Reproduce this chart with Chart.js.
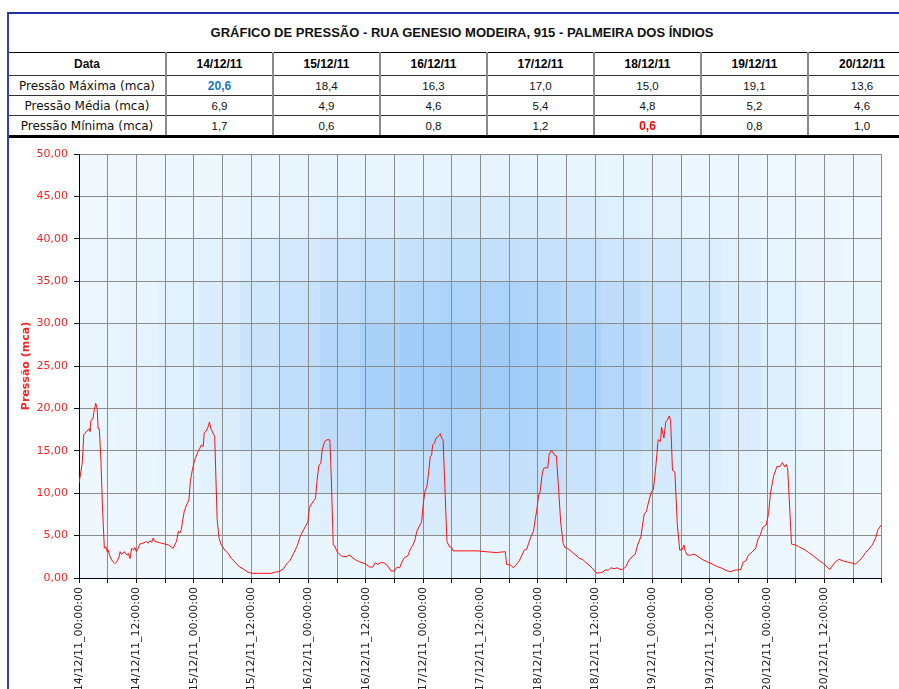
<!DOCTYPE html>
<html>
<head>
<meta charset="utf-8">
<script src="https://cdn.jsdelivr.net/npm/chart.js@4.4.1/dist/chart.umd.min.js"></script>
<style>
html,body{margin:0;padding:0;background:#fff;}
body{width:899px;height:689px;overflow:hidden;position:relative;}
#frame{position:absolute;left:7px;top:12px;width:1000px;height:700px;border-left:2px solid #2a3ed2;border-top:2px solid #1f2fa6;box-sizing:border-box;z-index:5;pointer-events:none;}
#tbl{position:absolute;left:9px;top:14px;width:906px;border-collapse:collapse;table-layout:fixed;z-index:3;background:#fff;}
#tbl td{padding:0;text-align:center;vertical-align:middle;white-space:nowrap;overflow:hidden;}
#tbl tr.title td{height:36px;font:bold 13px 'Liberation Sans',Arial,sans-serif;color:#111;border-bottom:1px solid #000;padding-bottom:2px;}
#tbl tr.hdr td{height:22px;font:bold 12px 'Liberation Sans',Arial,sans-serif;color:#000;border-left:2px solid #8a8a8a;}
#tbl tr.row td{height:19px;font:11.5px 'Liberation Sans',Arial,sans-serif;color:#111;border-left:2px solid #8a8a8a;border-top:1px solid #333;}
#tbl tr td.lab{font:12px 'DejaVu Sans',sans-serif;border-left:none;color:#111;}
#tbl tr.hdr td.lab{font:bold 12px 'Liberation Sans',Arial,sans-serif;}
#tbl tr.last td{border-bottom:3px solid #000;}
#tbl tr.row td.hiMax{color:#1b74c9;font-weight:bold;font-size:12px;}
#tbl tr.row td.hiMin{color:#f00;font-weight:bold;font-size:12px;}
#wrap{position:absolute;left:0;top:138px;width:899px;height:551px;z-index:1;}
</style>
</head>
<body>
<div id="frame"></div>
<table id="tbl"></table>
<div id="wrap"><canvas id="c" width="899" height="551"></canvas></div>
<script>
// ---------- data ----------
const chartTitle = 'GRÁFICO DE PRESSÃO - RUA GENESIO MODEIRA, 915 - PALMEIRA DOS ÍNDIOS';
const dayLabels = ['14/12/11','15/12/11','16/12/11','17/12/11','18/12/11','19/12/11','20/12/11'];
const pressureMax = [20.6, 18.4, 16.3, 17.0, 15.0, 19.1, 13.6];
const pressureAvg = [6.9, 4.9, 4.6, 5.4, 4.8, 5.2, 4.6];
const pressureMin = [1.7, 0.6, 0.8, 1.2, 0.6, 0.8, 1.0];
const highlightMaxIndex = 0;
const highlightMinIndex = 4;
const timeOfDayLabels = ['00:00:00', '12:00:00'];

// hours since 14/12/11 00:00
const hours = [
0,0.4,0.7,1.0,1.6,2.1,2.3,2.5,2.9,3.2,3.5,3.8,4.0,4.25,4.6,4.9,5.3,5.6,5.9,6.1,6.5,7.0,7.5,7.9,8.4,8.6,8.9,9.5,10.0,10.3,10.7,11.0,11.4,11.7,12.0,12.4,12.7,13.4,14.1,14.5,14.8,15.2,15.5,15.9,17.3,18.7,19.7,20.4,20.8,21.1,21.4,22.0,22.5,23.0,23.3,23.7,
24.2,24.9,25.3,25.6,26.0,26.2,26.6,27.0,27.3,27.6,28.4,28.9,29.3,29.8,30.5,31.2,31.9,32.6,33.6,34.3,35.4,36.4,37.8,40.2,40.9,41.9,42.8,43.5,44.2,44.9,45.6,46.3,47.0,47.9,
48.2,48.5,49.1,49.5,49.8,50.2,50.6,50.9,51.4,51.9,52.5,52.8,53.2,53.5,54.0,54.9,55.9,56.6,57.7,58.7,59.9,60.8,61.5,62.0,62.5,63.1,63.8,64.5,65.3,66.0,66.6,67.1,67.6,68.1,68.8,69.4,69.9,70.3,70.7,71.2,71.7,
72.1,72.4,72.8,73.1,73.5,73.8,74.0,74.4,74.7,75.2,75.6,75.9,76.2,76.5,77.0,77.5,78.0,78.3,80.6,83.4,85.2,87.3,89.2,89.5,90.4,90.9,91.4,92.2,92.7,93.2,93.7,94.1,94.6,95.1,95.5,95.8,
96.2,96.5,96.9,97.2,97.6,98.1,98.4,98.8,99.1,99.5,99.9,100.4,100.8,101.3,101.7,102.2,102.7,103.3,104.0,104.7,105.4,106.1,106.8,107.5,108.2,108.9,109.6,110.1,110.8,111.3,112.0,112.7,113.0,113.7,114.4,115.1,115.7,116.4,116.9,117.6,117.9,118.3,118.7,119.3,119.8,
120.2,120.7,121.2,121.7,121.9,122.4,122.8,123.1,123.5,123.8,124.2,124.7,125.2,125.7,126.2,126.6,126.9,127.3,128.0,128.7,129.4,130.4,131.5,132.5,133.6,134.6,135.7,136.4,137.4,138.5,139.0,139.5,140.1,140.9,141.6,142.1,142.6,143.1,143.8,
144.3,144.7,145.4,146.1,146.6,147.2,147.7,148.0,148.3,148.7,149.1,149.9,150.6,151.7,152.7,153.7,154.8,155.8,156.5,157.1,157.6,158.3,159.0,160.0,161.1,162.5,163.2,163.9,164.6,165.3,166.0,166.7,167.2,167.9
];
const pressure = [
11.2,12.5,13.7,16.9,17.3,17.6,17.3,18.6,18.75,19.8,20.6,20.0,17.6,17.6,13.7,8.6,3.5,3.7,3.1,3.3,2.5,2.0,1.7,1.9,2.5,3.1,2.8,3.1,2.7,2.9,2.3,3.5,3.3,3.6,3.1,3.5,4.0,4.1,4.3,4.1,4.4,4.2,4.7,4.3,4.1,3.9,3.5,4.3,5.5,5.3,5.7,7.8,8.6,9.2,11.4,12.7,
13.9,14.9,15.3,15.7,15.5,17.1,17.3,17.8,18.4,17.6,16.7,7.0,4.7,3.9,3.3,2.9,2.3,1.9,1.3,1.1,0.67,0.55,0.55,0.55,0.67,0.75,1.1,1.7,2.1,2.9,3.7,4.9,5.7,6.6,
8.2,8.6,9.1,9.4,11.4,13.3,13.5,15.1,16.1,16.3,16.3,11.8,3.9,3.8,3.1,2.6,2.5,2.7,2.2,1.9,1.7,1.3,1.3,1.8,1.6,1.8,1.8,1.5,0.83,0.83,1.3,1.2,1.9,2.4,2.6,3.5,3.9,4.5,5.5,6.1,6.6,
9.0,10.2,10.8,12.1,14.3,14.5,15.7,15.9,16.5,16.7,17.0,16.5,16.3,11.8,4.3,3.7,3.6,3.2,3.2,3.2,3.1,3.0,3.1,1.6,1.5,1.2,1.5,2.1,2.7,3.3,3.4,4.1,4.9,5.5,7.0,8.0,
9.8,10.2,12.1,12.9,13.0,13.0,14.6,15.0,14.9,14.5,14.4,10.2,6.6,4.1,3.6,3.5,3.3,3.0,2.7,2.3,2.2,1.8,1.5,1.1,0.6,0.6,0.7,0.94,0.94,1.2,1.1,1.2,1.06,1.0,1.3,2.1,2.5,2.8,3.9,4.9,6.1,7.6,7.8,9.2,10.2,
10.4,13.1,16.3,16.1,17.8,16.5,18.4,18.6,19.1,18.6,12.7,12.5,6.4,3.3,3.3,3.9,3.1,2.7,2.7,2.8,2.6,2.2,1.9,1.65,1.34,1.14,0.83,0.75,0.94,1.0,1.9,2.0,2.7,3.1,3.5,4.6,5.1,6.0,6.25,
7.6,10.0,12.1,13.2,13.1,13.6,13.1,13.4,12.9,8.6,4.0,3.9,3.7,3.4,3.0,2.6,2.1,1.7,1.34,1.0,1.4,1.9,2.2,2.0,1.85,1.65,2.0,2.4,3.0,3.4,3.9,4.7,5.7,6.25
];
const yTickValues = [0,5,10,15,20,25,30,35,40,45,50];
const yAxisTitle = 'Pressão (mca)';

// ---------- table ----------
const fmt1 = v => v.toFixed(1).replace('.', ',');
(function buildTable(){
  const t = document.getElementById('tbl');
  let html = '<colgroup><col style="width:157px">' + dayLabels.map(()=> '<col style="width:107px">').join('') + '</colgroup>';
  html += '<tr class="title"><td colspan="' + (dayLabels.length + 1) + '">' + chartTitle + '</td></tr>';
  html += '<tr class="hdr"><td class="lab">Data</td>' + dayLabels.map(d => '<td>' + d + '</td>').join('') + '</tr>';
  const rows = [
    ['Pressão Máxima (mca)', pressureMax, highlightMaxIndex, 'hiMax'],
    ['Pressão Média (mca)', pressureAvg, -1, ''],
    ['Pressão Mínima (mca)', pressureMin, highlightMinIndex, 'hiMin']
  ];
  rows.forEach((r, ri) => {
    html += '<tr class="row' + (ri === rows.length - 1 ? ' last' : '') + '"><td class="lab">' + r[0] + '</td>' +
      r[1].map((v, i) => '<td' + (i === r[2] ? ' class="' + r[3] + '"' : '') + '>' + fmt1(v) + '</td>').join('') + '</tr>';
  });
  t.innerHTML = html;
})();

// ---------- chart ----------
const points = hours.map((h, i) => ({x: h, y: pressure[i]}));

const bgPlugin = {
  id: 'plotBg',
  beforeDraw(chart) {
    const {ctx, chartArea: a} = chart;
    const W = 20, H = 10;
    const off = document.createElement('canvas');
    off.width = W; off.height = H;
    const o = off.getContext('2d');
    o.save();
    o.translate(W / 2, H / 2);
    o.scale(W * 0.6, H * 0.62);
    const g = o.createRadialGradient(0, 0, 0, 0, 0, 1);
    g.addColorStop(0, '#98c8f5');
    g.addColorStop(0.18, '#a3cef8');
    g.addColorStop(0.4, '#c2dffb');
    g.addColorStop(0.6, '#dbedfd');
    g.addColorStop(0.75, '#e8f5fe');
    g.addColorStop(1, '#f0f8fe');
    o.fillStyle = g;
    o.fillRect(-2, -2, 4, 4);
    o.restore();
    ctx.save();
    ctx.imageSmoothingEnabled = false;
    ctx.drawImage(off, a.left, a.top, a.right - a.left, a.bottom - a.top);
    ctx.restore();
  }
};

function xLabel(v) {
  if (v % 12 !== 0 || v >= 168) return '';
  const day = Math.floor(v / 24);
  const half = (v % 24) / 12;
  return dayLabels[day] + '_' + timeOfDayLabels[half];
}

new Chart(document.getElementById('c'), {
  type: 'line',
  data: {
    datasets: [{
      data: points,
      borderColor: '#ff1010',
      borderWidth: 1,
      pointRadius: 0,
      tension: 0,
      fill: false
    }]
  },
  options: {
    responsive: false,
    animation: false,
    events: [],
    layout: {padding: {top: 16, right: 16, left: 0, bottom: 0}},
    plugins: {legend: {display: false}, tooltip: {enabled: false}},
    scales: {
      x: {
        type: 'linear', min: 0, max: 168,
        afterBuildTicks(s) { const t = []; for (let v = 0; v <= 168; v += 6) t.push({value: v}); s.ticks = t; },
        afterFit(s) { s.height = 111; },
        ticks: {
          autoSkip: false, maxRotation: 90, minRotation: 90, padding: 4,
          color: '#222', font: {family: 'DejaVu Sans', size: 11},
          callback: v => xLabel(v)
        },
        grid: {color: '#8c8c8c', tickColor: '#111', tickLength: 5, lineWidth: 1},
        border: {color: '#000', width: 1}
      },
      y: {
        min: 0, max: 50,
        afterBuildTicks(s) { s.ticks = yTickValues.map(v => ({value: v})); },
        afterFit(s) { s.width = 79; },
        ticks: {
          padding: 6, color: '#ff2020', font: {family: 'DejaVu Sans', size: 11},
          callback: v => v.toFixed(2).replace('.', ',')
        },
        grid: {color: '#8c8c8c', tickColor: '#111', tickLength: 5, lineWidth: 1},
        border: {color: '#000', width: 1},
        title: {
          display: true, text: yAxisTitle, color: '#ff2020',
          font: {family: 'DejaVu Sans', size: 11, weight: 'bold'},
          padding: {top: 20, bottom: 0}
        }
      }
    }
  },
  plugins: [bgPlugin]
});
</script>
</body>
</html>
